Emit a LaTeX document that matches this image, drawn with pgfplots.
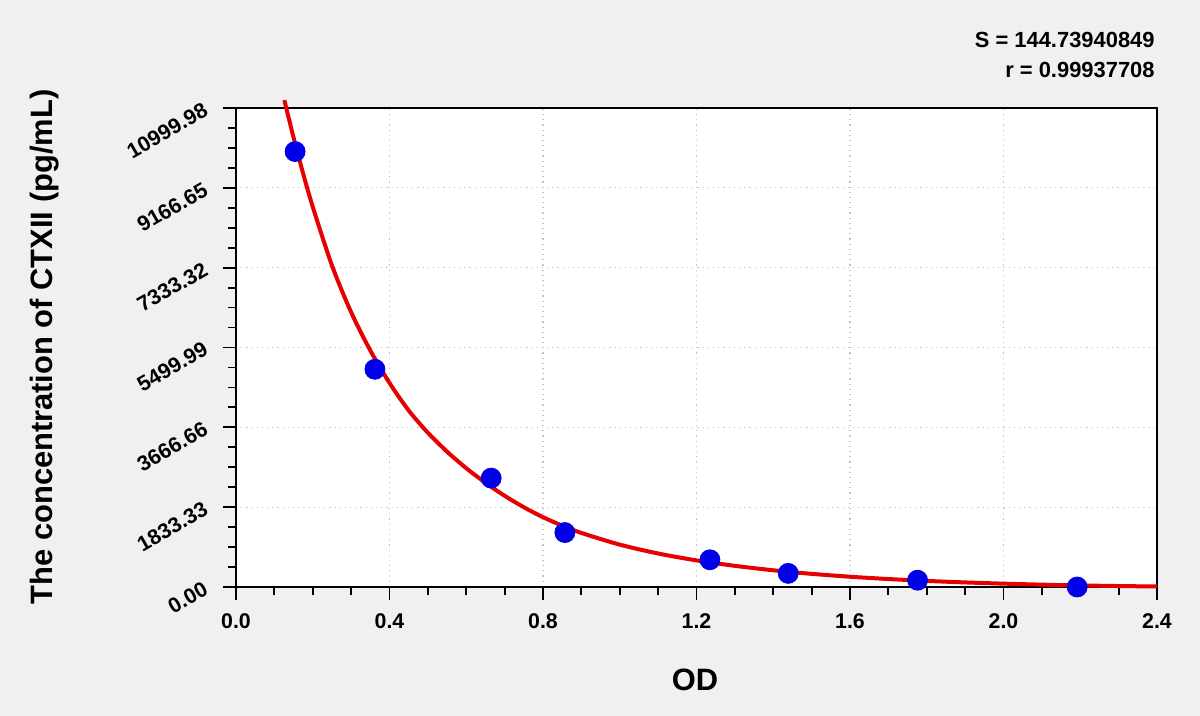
\documentclass[border=0pt]{standalone}
\usepackage{fontspec}
\setmainfont{Liberation Sans}
\usepackage{pgfplots}
\pgfplotsset{compat=1.18}
\definecolor{bgray}{HTML}{F0F0F0}
\definecolor{gridc}{HTML}{C4C4C4}
\definecolor{ptblue}{HTML}{0000E8}
\definecolor{fitred}{HTML}{E60000}

\begin{document}
\begin{tikzpicture}
\fill[bgray] (0,0) rectangle (600bp,358bp);
\useasboundingbox (0,0) rectangle (600bp,358bp);
\begin{axis}[
    at={(118bp,64.5bp)}, anchor=south west,
    scale only axis,
    width=460.5bp, height=239.5bp,
    xmin=0, xmax=2.4, ymin=0, ymax=10999.98,
    axis background/.style={fill=white},
    axis line style={line width=1bp, black},
    tick align=outside,
    tick style={line width=0.9bp, black},
    major tick length=6.5bp,
    minor tick length=4bp,
    xtick={0,0.4,0.8,1.2,1.6,2.0,2.4},
    xticklabels={0.0,0.4,0.8,1.2,1.6,2.0,2.4},
    minor x tick num=3,
    ytick={0,1833.33,3666.66,5499.99,7333.32,9166.65,10999.98},
    yticklabels={0.00,1833.33,3666.66,5499.99,7333.32,9166.65,10999.98},
    minor y tick num=3,
    scaled y ticks=false,
    xtick pos=bottom, ytick pos=left,
    grid=major,
    major grid style={gridc, line width=0.6bp, dotted},
    ticklabel style={font=\fontsize{10.7}{12}\selectfont\bfseries},
    xticklabel style={yshift=-3.5bp},
    yticklabel style={inner sep=0pt, xshift=-8.5bp, rotate=30, anchor=east},
    clip=false,
]
% standard points
\addplot[only marks, mark=*, mark size=5bp, ptblue, mark options={draw=ptblue, fill=ptblue}]
    coordinates {
    (0.154, 10000)
    (0.362, 5000)
    (0.665, 2500)
    (0.857, 1250)
    (1.235, 625)
    (1.439, 312.5)
    (1.776, 156)
    (2.192, 0)
    };
% fitted curve
\addplot[fitred, line width=2bp, smooth, tension=0.5]
    coordinates {
    (0.126, 11180)
    (0.150, 10322)
    (0.175, 9493)
    (0.200, 8731)
    (0.250, 7386)
    (0.300, 6310)
    (0.350, 5431)
    (0.400, 4686)
    (0.450, 4054)
    (0.500, 3543)
    (0.550, 3108)
    (0.600, 2728)
    (0.650, 2393)
    (0.700, 2095)
    (0.750, 1832)
    (0.800, 1604)
    (0.850, 1409)
    (0.900, 1242)
    (1.000, 973)
    (1.100, 769)
    (1.200, 611)
    (1.300, 486)
    (1.400, 384)
    (1.500, 302)
    (1.600, 236)
    (1.700, 183)
    (1.800, 140)
    (1.900, 105)
    (2.000, 77)
    (2.100, 54)
    (2.200, 36)
    (2.300, 22)
    (2.400, 12)
    };
\end{axis}
\node[font=\fontsize{15.5}{18}\selectfont\bfseries] at (347.5bp,18bp) {OD};
\node[font=\fontsize{15.5}{18}\selectfont\bfseries, rotate=90] at (22.5bp,184.5bp) {The concentration of CTXII (pg/mL)};
\node[font=\fontsize{11}{13}\selectfont\bfseries, anchor=east, inner sep=0pt] at (577.5bp,338bp) {S = 144.73940849};
\node[font=\fontsize{11}{13}\selectfont\bfseries, anchor=east, inner sep=0pt] at (577.5bp,323bp) {r = 0.99937708};
\end{tikzpicture}
\end{document}
